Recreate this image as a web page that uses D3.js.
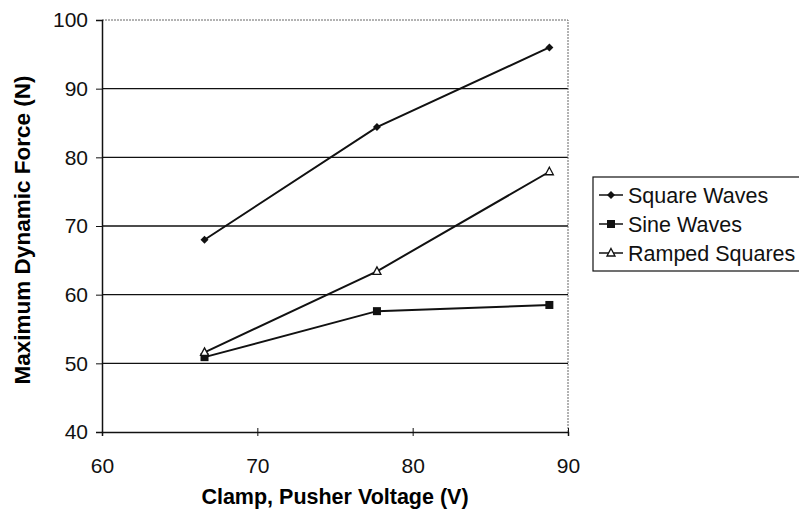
<!DOCTYPE html>
<html>
<head>
<style>
  body, html { margin: 0; padding: 0; background: #fff; }
  text { font-family: "Liberation Sans", Arial, sans-serif; }
</style>
</head>
<body>
<svg id="svg" width="799" height="519"></svg>
<script src="https://d3js.org/d3.v7.min.js"></script>
<script>
// voltages on the x axis
const voltages = [66.6, 77.7, 88.8]
// series values (N)
const squareWaves = [68, 84.4, 96]
const sineWaves = [50.9, 57.6, 58.5]
const rampedSquares = [51.6, 63.4, 77.9]
const seriesNames = ['Square Waves', 'Sine Waves', 'Ramped Squares']
const xTicks = [60, 70, 80, 90]
const yTicks = [40, 50, 60, 70, 80, 90, 100]

const series = [
  { name: seriesNames[0], values: squareWaves, marker: 'diamond' },
  { name: seriesNames[1], values: sineWaves, marker: 'square' },
  { name: seriesNames[2], values: rampedSquares, marker: 'triangle' }
]

const svg = d3.select('#svg')
const plotL = 102, plotR = 568, plotT = 20, plotB = 432

const x = d3.scaleLinear().domain([60, 90]).range([plotL, plotR])
const y = d3.scaleLinear().domain([40, 100]).range([plotB, plotT])

// gridlines
svg.append('g').selectAll('line')
  .data(yTicks.filter(d => d > 40 && d < 100))
  .join('line')
  .attr('x1', plotL).attr('x2', plotR)
  .attr('y1', d => y(d)).attr('y2', d => y(d))
  .attr('stroke', '#111').attr('stroke-width', 1.3)

// top + right border, dotted grey
svg.append('path')
  .attr('d', `M${plotL},${plotT}H${plotR}V${plotB}`)
  .attr('fill', 'none').attr('stroke', '#666')
  .attr('stroke-dasharray', '2,1').attr('stroke-width', 1)

// y axis
const yAxis = svg.append('g')
  .attr('transform', `translate(${plotL},0)`)
  .call(d3.axisLeft(y).tickValues(yTicks).tickSize(6).tickPadding(8))
yAxis.select('.domain').attr('stroke', '#111').attr('stroke-width', 1.5)
yAxis.selectAll('line').attr('stroke', '#111')
yAxis.selectAll('text').style('font-size', '21px').attr('fill', '#111')

// x axis
const xAxis = svg.append('g')
  .attr('transform', `translate(0,${plotB})`)
  .call(d3.axisBottom(x).tickValues(xTicks).tickSize(4).tickPadding(22))
xAxis.select('.domain').attr('stroke', '#111').attr('stroke-width', 1.5)
xAxis.selectAll('line').attr('stroke', '#111').attr('y1', -4)
xAxis.selectAll('text').style('font-size', '21px').attr('fill', '#111')

// titles
svg.append('text')
  .attr('transform', `translate(30,230) rotate(-90)`)
  .attr('text-anchor', 'middle')
  .style('font-size', '22.5px').style('font-weight', 'bold')
  .text('Maximum Dynamic Force (N)')

svg.append('text')
  .attr('x', (plotL + plotR) / 2).attr('y', 504)
  .attr('text-anchor', 'middle')
  .style('font-size', '21.5px').style('font-weight', 'bold')
  .text('Clamp, Pusher Voltage (V)')

function drawMarker(g, type, cx, cy) {
  if (type === 'diamond') {
    g.append('path').attr('d', `M${cx},${cy - 4}L${cx + 4},${cy}L${cx},${cy + 4}L${cx - 4},${cy}Z`)
      .attr('fill', '#111')
  } else if (type === 'square') {
    g.append('rect').attr('x', cx - 4).attr('y', cy - 4).attr('width', 8).attr('height', 8)
      .attr('fill', '#111')
  } else {
    g.append('path').attr('d', `M${cx},${cy - 4.5}L${cx + 4},${cy + 3}L${cx - 4},${cy + 3}Z`)
      .attr('fill', '#fff').attr('stroke', '#111').attr('stroke-width', 1.3)
  }
}

const line = d3.line().x((d, i) => x(voltages[i])).y(d => y(d))

series.forEach(s => {
  const g = svg.append('g')
  g.append('path').attr('d', line(s.values))
    .attr('fill', 'none').attr('stroke', '#111').attr('stroke-width', 2)
  s.values.forEach((v, i) => drawMarker(g, s.marker, x(voltages[i]), y(v)))
})

// legend
const lg = svg.append('g')
lg.append('rect').attr('x', 593).attr('y', 177).attr('width', 215).attr('height', 94)
  .attr('fill', '#fff').attr('stroke', '#111').attr('stroke-width', 1.2)
series.forEach((s, i) => {
  const ly = 195 + i * 29
  lg.append('line').attr('x1', 599).attr('x2', 623).attr('y1', ly).attr('y2', ly)
    .attr('stroke', '#111').attr('stroke-width', 1.5)
  drawMarker(lg, s.marker, 611, ly)
  lg.append('text').attr('x', 628).attr('y', ly + 8)
    .style('font-size', '21.5px').attr('fill', '#111').text(s.name)
})
</script>
</body>
</html>
